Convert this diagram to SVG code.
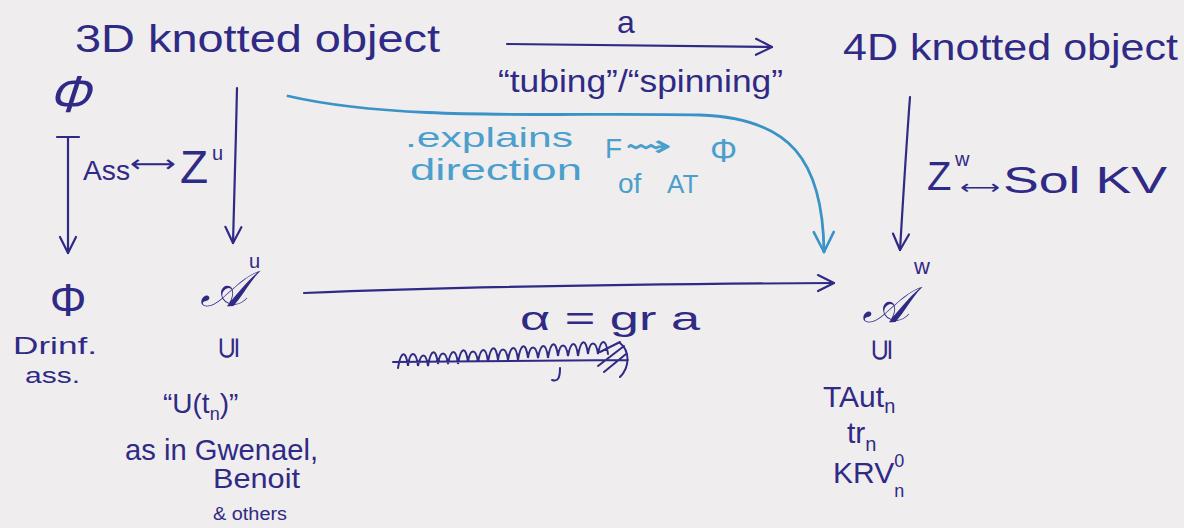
<svg xmlns="http://www.w3.org/2000/svg" width="1184" height="528" viewBox="0 0 1184 528">
<defs>
<marker id="ah" viewBox="0 0 20 20" refX="18" refY="10" markerWidth="20" markerHeight="20" markerUnits="userSpaceOnUse" orient="auto">
<path d="M2,2 L18,10 L2,18" fill="none" stroke="#2f2a85" stroke-width="2.2" stroke-linecap="round" stroke-linejoin="round"/>
</marker>
<marker id="ahb" viewBox="0 0 24 24" refX="22" refY="12" markerWidth="24" markerHeight="24" markerUnits="userSpaceOnUse" orient="auto">
<path d="M2,2 L22,12 L2,22" fill="none" stroke="#3a93c6" stroke-width="2.6" stroke-linecap="round" stroke-linejoin="round"/>
</marker>
</defs>
<style>
.ink{fill:#2f2a85;font-family:"Liberation Sans","DejaVu Sans",sans-serif}
.blue{fill:#4a9fcc;font-family:"Liberation Sans","DejaVu Sans",sans-serif}
.math{fill:#2f2a85;font-family:"DejaVu Serif","Liberation Serif",serif}
.ln{fill:none;stroke:#2f2a85;stroke-width:2.2;stroke-linecap:round}
</style>
<rect width="1184" height="528" fill="#f0edee"/>

<g id="connectors">
<path class="ln" d="M507,44 L772,47" marker-end="url(#ah)"/>
<path class="ln" d="M57,137 L79,137 M68,137 L68,253" marker-end="url(#ah)"/>
<path class="ln" d="M237,88 C236,140 234,200 233,243" marker-end="url(#ah)"/>
<path class="ln" d="M910,97 C906,150 903,200 900,250" marker-end="url(#ah)"/>
<path class="ln" d="M304,293 C450,287 650,284 834,283" marker-end="url(#ah)"/>
<path d="M288,96 C400,122 560,112 700,115 C790,118 823,160 824,252" fill="none" stroke="#3a93c6" stroke-width="2.8" stroke-linecap="round" marker-end="url(#ahb)"/>
</g>

<g id="n3d"><text class="ink" x="75" y="52" font-size="38" textLength="365" lengthAdjust="spacingAndGlyphs">3D knotted object</text></g>
<g id="n4d"><text class="ink" x="843" y="60" font-size="36" textLength="335" lengthAdjust="spacingAndGlyphs">4D knotted object</text></g>

<g id="label-a">
<text class="ink" x="617" y="33" font-size="32">a</text>
<text class="ink" x="498" y="92" font-size="32" textLength="285" lengthAdjust="spacingAndGlyphs">“tubing”/“spinning”</text>
</g>

<g id="phi-top"><text class="ink" x="0" y="0" font-size="52" text-anchor="middle" transform="translate(68,112) skewX(-18)">Φ</text></g>

<g id="label-ass">
<text class="ink" x="83" y="180" font-size="28" textLength="47" lengthAdjust="spacingAndGlyphs">Ass</text>
<text class="ink" x="130" y="172" font-size="24" textLength="46" lengthAdjust="spacingAndGlyphs">⟷</text>
<text class="ink" x="180" y="183" font-size="46">Z</text>
<text class="ink" x="212" y="160" font-size="20">u</text>
</g>

<g id="label-blue">
<text class="blue" x="405" y="147" font-size="28" textLength="168" lengthAdjust="spacingAndGlyphs">.explains</text>
<text class="blue" x="410" y="180" font-size="30" textLength="172" lengthAdjust="spacingAndGlyphs">direction</text>
<text class="blue" x="605" y="158" font-size="28">F</text>
<text class="blue" x="624" y="156" font-size="30" textLength="48" lengthAdjust="spacingAndGlyphs">⇝</text>
<text class="blue" x="710" y="162" font-size="34">Φ</text>
<text class="blue" x="618" y="193" font-size="28">of</text>
<text class="blue" x="667" y="193" font-size="26">AT</text>
</g>

<g id="label-zw">
<text class="ink" x="927" y="190" font-size="40">Z</text>
<text class="ink" x="955" y="166" font-size="20">w</text>
<text class="ink" x="960" y="194" font-size="20" textLength="40" lengthAdjust="spacingAndGlyphs">⟷</text>
<text class="ink" x="1003" y="193" font-size="36" textLength="164" lengthAdjust="spacingAndGlyphs">Sol KV</text>
</g>

<g id="phi-drinf">
<text class="ink" x="68" y="316" font-size="46" text-anchor="middle">Φ</text>
<text class="ink" x="13" y="354" font-size="24" textLength="84" lengthAdjust="spacingAndGlyphs">Drinf.</text>
<text class="ink" x="25" y="383" font-size="22" textLength="55" lengthAdjust="spacingAndGlyphs">ass.</text>
</g>

<g id="au">
<text class="math" x="200" y="306" font-size="50" font-style="italic">𝒜</text>
<text class="ink" x="249" y="268" font-size="20">u</text>
<text class="ink" x="0" y="0" font-size="30" text-anchor="middle" transform="translate(228,348) rotate(-90)" dy="10">⊆</text>
<text class="ink" x="163" y="413" font-size="28">“U(t<tspan font-size="18" dy="7">n</tspan><tspan dy="-7">)”</tspan></text>
<text class="ink" x="125" y="460" font-size="30" textLength="193" lengthAdjust="spacingAndGlyphs">as in Gwenael,</text>
<text class="ink" x="213" y="488" font-size="28" textLength="87" lengthAdjust="spacingAndGlyphs">Benoit</text>
<text class="ink" x="213" y="520" font-size="18" textLength="74" lengthAdjust="spacingAndGlyphs">&amp; others</text>
</g>

<g id="aw">
<text class="math" x="862" y="322" font-size="50" font-style="italic">𝒜</text>
<text class="ink" x="914" y="274" font-size="22">w</text>
<text class="ink" x="0" y="0" font-size="30" text-anchor="middle" transform="translate(881,350) rotate(-90)" dy="10">⊆</text>
<text class="ink" x="823" y="407" font-size="30">TAut<tspan font-size="20" dy="6">n</tspan></text>
<text class="ink" x="847" y="443" font-size="30">tr<tspan font-size="20" dy="8">n</tspan></text>
<text class="ink" x="833" y="483" font-size="30">KRV<tspan font-size="18" dy="14">n</tspan><tspan font-size="18" dx="-10" dy="-30">0</tspan></text>
</g>

<g id="label-alpha">
<text class="ink" x="520" y="330" font-size="34" textLength="180" lengthAdjust="spacingAndGlyphs">α = gr a</text>
<path d="M393,362 L628,360 M398,368 c3,-18 8,-18 10,-2 c2,-16 8,-16 10,0 c3,-14 8,-14 10,0 c3,-18 8,-18 10,-2 c2,-14 8,-14 10,0 c3,-16 8,-16 10,0 c3,-18 8,-18 10,-2 c2,-14 8,-14 10,0 c3,-16 8,-16 10,0 c3,-18 8,-18 10,-2 c2,-14 8,-14 10,0 c3,-16 8,-16 10,0 c3,-18 8,-18 10,-2 c2,-14 8,-14 10,0 c3,-16 8,-16 10,0 c3,-18 8,-18 10,-2 c2,-14 8,-14 10,0 c3,-16 8,-16 10,0 c3,-18 8,-18 10,-2 c2,-14 8,-14 10,0 c3,-16 8,-16 10,0 M560,368 c0,10 -2,14 -8,12 M600,352 l20,-10 M598,366 l26,-20 M604,372 l22,-18 M620,343 c10,8 10,24 0,34" fill="none" stroke="#2f2a85" stroke-width="2" stroke-linecap="round"/>
</g>
</svg>
